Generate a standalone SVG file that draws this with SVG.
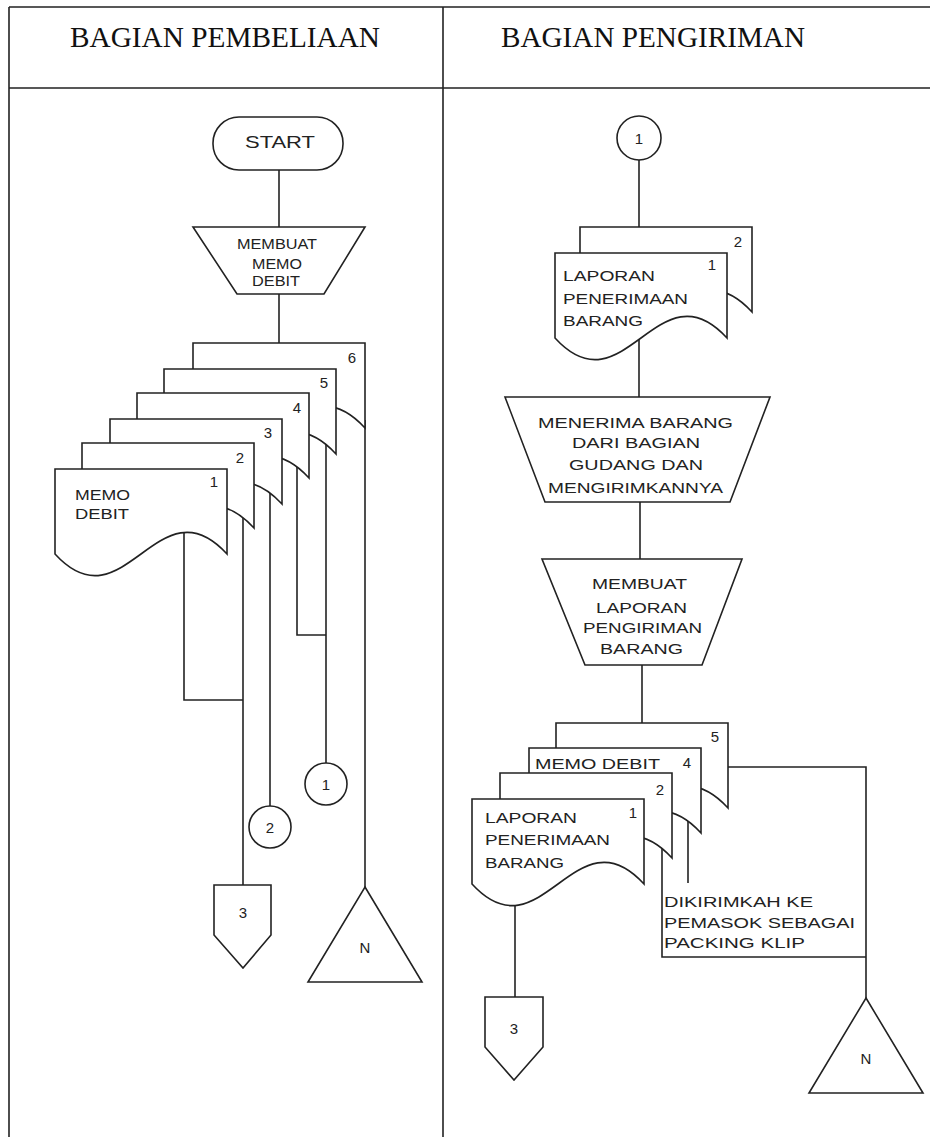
<svg xmlns="http://www.w3.org/2000/svg" width="930" height="1137" viewBox="0 0 930 1137">
<style>
.s{fill:#fff;stroke:#222;stroke-width:1.6}
.c{fill:none;stroke:#222;stroke-width:1.6}
.t{font-family:"Liberation Sans",Arial,sans-serif;font-size:15px;fill:#222}
.n{font-family:"Liberation Sans",Arial,sans-serif;font-size:15px;fill:#222;text-anchor:middle}
.h{font-family:"Liberation Serif","Times New Roman",serif;font-size:29px;fill:#111}
</style>
<rect width="930" height="1137" fill="#fff"/>
<g id="frame" class="c">
<path d="M9,7 H930 M9,7 V1137 M443,7 V1137 M9,88 H930"/>
</g>
<g id="headers">
<text class="h" x="70" y="47" textLength="310" lengthAdjust="spacingAndGlyphs">BAGIAN PEMBELIAAN</text>
<text class="h" x="501" y="47" textLength="304" lengthAdjust="spacingAndGlyphs">BAGIAN PENGIRIMAN</text>
</g>
<g id="connectors" class="c">
<path d="M279,170 V227"/>
<path d="M279,294 V343"/>
<path d="M184,520 V700 H243"/>
<path d="M243,500 V885"/>
<path d="M270,480 V806"/>
<path d="M297,455 V635 H326"/>
<path d="M326,430 V763"/>
<path d="M365,420 V887"/>
<path d="M639,160 V227"/>
<path d="M639,320 V397"/>
<path d="M640,502 V559"/>
<path d="M642,665 V723"/>
<path d="M515,880 V997"/>
<path d="M662,830 V957 H866"/>
<path d="M688,810 V883"/>
<path d="M728,767 H866 V998"/>
</g>
<g id="start">
<rect class="s" x="213" y="117" width="130" height="53" rx="26"/>
<text class="t" x="245" y="148" style="font-size:17px" textLength="70" lengthAdjust="spacingAndGlyphs">START</text>
</g>
<g id="proc-memo">
<path class="s" d="M193,227 H365 L324,294 H237 Z"/>
<text class="t" x="237" y="249" textLength="80" lengthAdjust="spacingAndGlyphs">MEMBUAT</text>
<text class="t" x="252" y="269" textLength="50" lengthAdjust="spacingAndGlyphs">MEMO</text>
<text class="t" x="252" y="286" textLength="48" lengthAdjust="spacingAndGlyphs">DEBIT</text>
</g>
<g id="doc-memo-6">
<path class="s" d="M193,343 H365 V428 C296.2,353 261.8,503 193,428 Z"/>
<text class="n" x="352" y="363">6</text>
</g>
<g id="doc-memo-5">
<path class="s" d="M164,369 H336 V454 C267.2,379 232.8,529 164,454 Z"/>
<text class="n" x="324" y="388">5</text>
</g>
<g id="doc-memo-4">
<path class="s" d="M137,393 H309 V478 C240.2,403 205.8,553 137,478 Z"/>
<text class="n" x="297" y="413">4</text>
</g>
<g id="doc-memo-3">
<path class="s" d="M110,419 H282 V504 C213.2,429 178.8,579 110,504 Z"/>
<text class="n" x="268" y="438">3</text>
</g>
<g id="doc-memo-2">
<path class="s" d="M82,443 H254 V528 C185.2,453 150.8,603 82,528 Z"/>
<text class="n" x="240" y="463">2</text>
</g>
<g id="doc-memo-1">
<path class="s" d="M55,469 H227 V554 C158.2,479 123.8,629 55,554 Z"/>
<text class="n" x="214" y="487">1</text>
<text class="t" x="75" y="500" textLength="55" lengthAdjust="spacingAndGlyphs">MEMO</text>
<text class="t" x="75" y="519" textLength="54" lengthAdjust="spacingAndGlyphs">DEBIT</text>
</g>
<g id="conn-l1">
<circle class="s" cx="326" cy="784" r="21"/>
<text class="n" x="326" y="790">1</text>
</g>
<g id="conn-l2">
<circle class="s" cx="270" cy="827" r="21"/>
<text class="n" x="270" y="833">2</text>
</g>
<g id="offpage-l3">
<path class="s" d="M214,885 H271 V935 L243,968 L214,935 Z"/>
<text class="n" x="243" y="918">3</text>
</g>
<g id="archive-l">
<path class="s" d="M365,887 L422,982 H308 Z"/>
<text class="n" x="365" y="953">N</text>
</g>
<g id="conn-r1">
<circle class="s" cx="639" cy="138" r="22"/>
<text class="n" x="639" y="144">1</text>
</g>
<g id="doc-lpb-2">
<path class="s" d="M580,227 H752 V312 C683.2,237 648.8,387 580,312 Z"/>
<text class="n" x="738" y="247">2</text>
</g>
<g id="doc-lpb-1">
<path class="s" d="M555,253 H727 V338 C658.2,263 623.8,413 555,338 Z"/>
<text class="n" x="712" y="270">1</text>
<text class="t" x="563" y="281" textLength="92" lengthAdjust="spacingAndGlyphs">LAPORAN</text>
<text class="t" x="563" y="304" textLength="125" lengthAdjust="spacingAndGlyphs">PENERIMAAN</text>
<text class="t" x="563" y="326" textLength="80" lengthAdjust="spacingAndGlyphs">BARANG</text>
</g>
<g id="proc-terima">
<path class="s" d="M505,397 H770 L730,502 H545 Z"/>
<text class="t" x="538" y="428" textLength="195" lengthAdjust="spacingAndGlyphs">MENERIMA BARANG</text>
<text class="t" x="572" y="448" textLength="128" lengthAdjust="spacingAndGlyphs">DARI BAGIAN</text>
<text class="t" x="569" y="470" textLength="134" lengthAdjust="spacingAndGlyphs">GUDANG DAN</text>
<text class="t" x="548" y="493" textLength="175" lengthAdjust="spacingAndGlyphs">MENGIRIMKANNYA</text>
</g>
<g id="proc-laporan">
<path class="s" d="M542,559 H742 L702,665 H585 Z"/>
<text class="t" x="592" y="589" textLength="95" lengthAdjust="spacingAndGlyphs">MEMBUAT</text>
<text class="t" x="596" y="613" textLength="91" lengthAdjust="spacingAndGlyphs">LAPORAN</text>
<text class="t" x="583" y="633" textLength="119" lengthAdjust="spacingAndGlyphs">PENGIRIMAN</text>
<text class="t" x="600" y="654" textLength="83" lengthAdjust="spacingAndGlyphs">BARANG</text>
</g>
<g id="doc-r-5">
<path class="s" d="M556,723 H728 V808 C659.2,733 624.8,883 556,808 Z"/>
<text class="n" x="715" y="742">5</text>
</g>
<g id="doc-r-4">
<path class="s" d="M529,748 H701 V833 C632.2,758 597.8,908 529,833 Z"/>
<text class="n" x="687" y="768">4</text>
<text class="t" x="535" y="769" textLength="125" lengthAdjust="spacingAndGlyphs">MEMO  DEBIT</text>
</g>
<g id="doc-r-2">
<path class="s" d="M500,773 H672 V858 C603.2,783 568.8,933 500,858 Z"/>
<text class="n" x="660" y="795">2</text>
</g>
<g id="doc-r-1">
<path class="s" d="M472,799 H644 V884 C575.2,809 540.8,959 472,884 Z"/>
<text class="n" x="633" y="818">1</text>
<text class="t" x="485" y="823" textLength="92" lengthAdjust="spacingAndGlyphs">LAPORAN</text>
<text class="t" x="485" y="845" textLength="125" lengthAdjust="spacingAndGlyphs">PENERIMAAN</text>
<text class="t" x="485" y="868" textLength="79" lengthAdjust="spacingAndGlyphs">BARANG</text>
</g>
<g id="note-kirim">
<text class="t" x="664" y="907" textLength="149" lengthAdjust="spacingAndGlyphs">DIKIRIMKAH  KE</text>
<text class="t" x="664" y="928" textLength="191" lengthAdjust="spacingAndGlyphs">PEMASOK  SEBAGAI</text>
<text class="t" x="664" y="948" textLength="141" lengthAdjust="spacingAndGlyphs">PACKING  KLIP</text>
</g>
<g id="offpage-r3">
<path class="s" d="M485,997 H543 V1047 L514,1080 L485,1047 Z"/>
<text class="n" x="514" y="1034">3</text>
</g>
<g id="archive-r">
<path class="s" d="M866,998 L923,1093 H809 Z"/>
<text class="n" x="866" y="1064">N</text>
</g>
</svg>
